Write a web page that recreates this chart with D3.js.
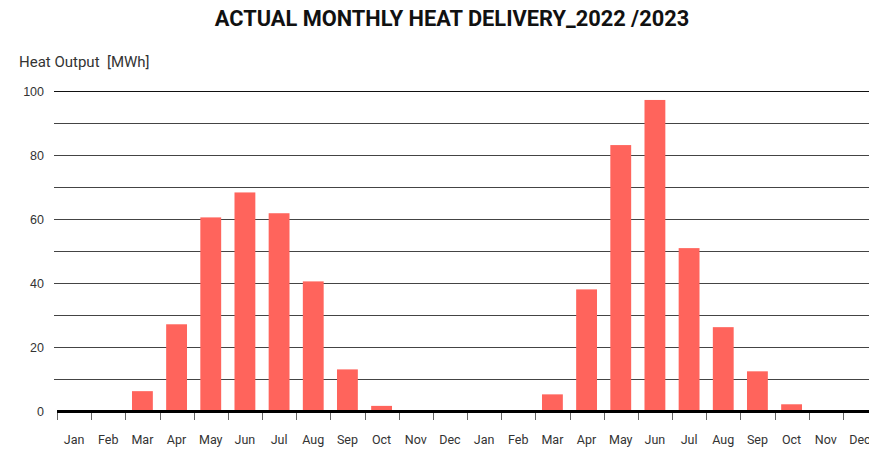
<!DOCTYPE html>
<html>
<head>
<meta charset="utf-8">
<script src="https://cdn.jsdelivr.net/npm/d3@7"></script>
<style>
    body { margin: 0; background: #fff; }
    svg { display: block; font-family: "Liberation Sans Narrow", "Roboto", sans-serif; }
    .axis text { fill: #333; font-size: 12.5px; }
    .grid line { stroke: #444; stroke-width: 1; }
</style>
</head>
<body>
<svg width="869" height="450"></svg>
<script>
// monthly heat delivery 2022 / 2023
let months = ["Jan", "Feb", "Mar", "Apr", "May", "Jun", "Jul", "Aug", "Sep", "Oct", "Nov", "Dec",
              "Jan", "Feb", "Mar", "Apr", "May", "Jun", "Jul", "Aug", "Sep", "Oct", "Nov", "Dec"];
let heat2022 = [0, 0, 6.2, 27.1, 60.5, 68.3, 61.8, 40.5, 13.0, 1.6, 0, 0];
let heat2023 = [0, 0, 5.2, 38.0, 83.1, 97.2, 50.9, 26.2, 12.4, 2.1, 0, 0];
let yTicks = [0, 20, 40, 60, 80, 100];

let values = heat2022.concat(heat2023);
let data = months.map((m, i) => ({ i: i, month: m, value: values[i] }));

let svg = d3.select("svg");

let margin = { top: 91, right: -8, bottom: 39, left: 57 },
    width = +svg.attr("width") - margin.left - margin.right,
    height = +svg.attr("height") - margin.top - margin.bottom;

let x = d3.scaleBand()
    .domain(data.map(d => d.i))
    .range([0, width])
    .paddingInner(0.39)
    .paddingOuter(0.195);

let y = d3.scaleLinear()
    .domain([0, 100])
    .range([height, 0]);

let g = svg.append("g")
    .attr("transform", "translate(" + margin.left + "," + margin.top + ")");

// horizontal grid every 10
g.append("g")
    .classed("grid", true)
    .selectAll("line")
    .data(d3.range(10, 101, 10))
    .enter()
    .append("line")
    .attr("x1", -3)
    .attr("x2", width)
    .attr("y1", d => y(d) + 0.5)
    .attr("y2", d => y(d) + 0.5)
    .style("stroke", d => d === 100 ? "#111" : null);

// y labels
let yAxis = g.append("g")
    .classed("axis axis--y", true)
    .call(d3.axisLeft(y).tickValues(yTicks).tickSize(0).tickPadding(13));
yAxis.select(".domain").remove();

g.selectAll(".bar")
    .data(data)
    .enter()
    .append("rect")
    .classed("bar", true)
    .attr("x", d => x(d.i))
    .attr("y", d => y(d.value))
    .attr("width", x.bandwidth())
    .attr("height", d => height - y(d.value))
    .attr("fill", "#ff645c");

// x axis: ticks between months
let step = x.step();
let xAxis = g.append("g")
    .classed("axis axis--x", true)
    .attr("transform", "translate(0," + height + ")");

xAxis.append("line")
    .attr("x1", 0)
    .attr("x2", width)
    .attr("y1", 0.5)
    .attr("y2", 0.5)
    .attr("stroke", "#000")
    .attr("stroke-width", 3);

xAxis.selectAll(".tick-mark")
    .data(d3.range(0, months.length + 1))
    .enter()
    .append("line")
    .classed("tick-mark", true)
    .attr("x1", d => Math.round(d * step) + 0.5)
    .attr("x2", d => Math.round(d * step) + 0.5)
    .attr("y1", 2)
    .attr("y2", 9)
    .attr("stroke", "#666")
    .attr("stroke-width", 1);

xAxis.selectAll(".tick-label")
    .data(data)
    .enter()
    .append("text")
    .classed("tick-label", true)
    .attr("x", d => x(d.i) + x.bandwidth() / 2)
    .attr("y", 33)
    .attr("text-anchor", "middle")
    .text(d => d.month);

svg.append("text")
    .attr("x", 452)
    .attr("y", 26)
    .attr("text-anchor", "middle")
    .style("font-size", "21.8px")
    .style("font-weight", "bold")
    .style("fill", "#111")
    .text("ACTUAL MONTHLY HEAT DELIVERY_2022 /2023");

svg.append("text")
    .attr("x", 19)
    .attr("y", 67)
    .style("font-size", "15px")
    .style("fill", "#333")
    .style("white-space", "pre")
    .text("Heat Output  [MWh]");
</script>
</body>
</html>
